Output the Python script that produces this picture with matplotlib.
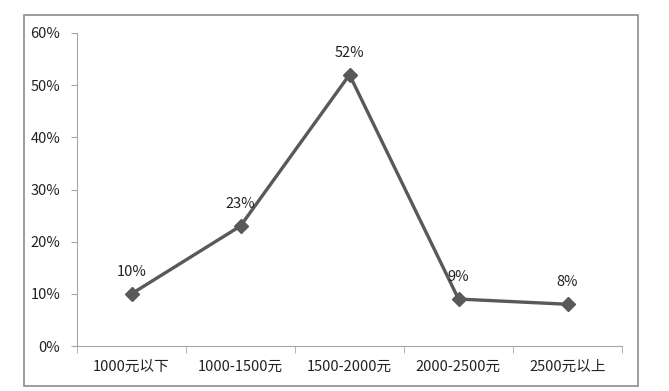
import matplotlib.pyplot as plt
from matplotlib.patches import Rectangle
from matplotlib.ticker import PercentFormatter

plt.rcParams['font.family'] = ['Noto Sans CJK SC', 'DejaVu Sans']

categories = ["1000元以下", "1000-1500元", "1500-2000元", "2000-2500元", "2500元以上"]
values = [10, 23, 52, 9, 8]

fig = plt.figure(figsize=(6.69, 3.91), dpi=100)
ax = fig.add_axes([77/669, 1-346/391, 545/669, 313/391])

# outer chart border
fig.patches.append(Rectangle((24/669, 5/391), 614/669, 371/391, transform=fig.transFigure,
                             fill=False, edgecolor="#8c8c8c", linewidth=1.2))

x = list(range(len(categories)))
ax.plot(x, values, color="#595959", linewidth=2.4, marker="D", markersize=7,
        markerfacecolor="#595959", markeredgecolor="#595959")

for xi, v in zip(x, values):
    ax.annotate(f"{v}%", (xi, v), xytext=(0, 16), textcoords="offset points",
                ha="center", va="center", fontsize=10.5, color="#222222")

ax.set_xlim(-0.5, len(categories) - 0.5)
ax.set_ylim(0, 60)
ax.set_yticks(range(0, 61, 10))
ax.yaxis.set_major_formatter(PercentFormatter(decimals=0))
ax.set_xticks(x)
ax.set_xticklabels(categories)
ax.set_xticks([i + 0.5 for i in range(-1, len(categories))], minor=True)
ax.tick_params(axis="x", which="major", length=0, pad=10, labelsize=10.5, colors="#222222")
ax.tick_params(axis="x", which="minor", length=5, color="#a6a6a6")
ax.tick_params(axis="y", length=4, color="#a6a6a6", labelsize=10.5, labelcolor="#222222", pad=8)

for s in ["top", "right"]:
    ax.spines[s].set_visible(False)
for s in ["left", "bottom"]:
    ax.spines[s].set_color("#a6a6a6")

fig.savefig("out.png", dpi=100)
